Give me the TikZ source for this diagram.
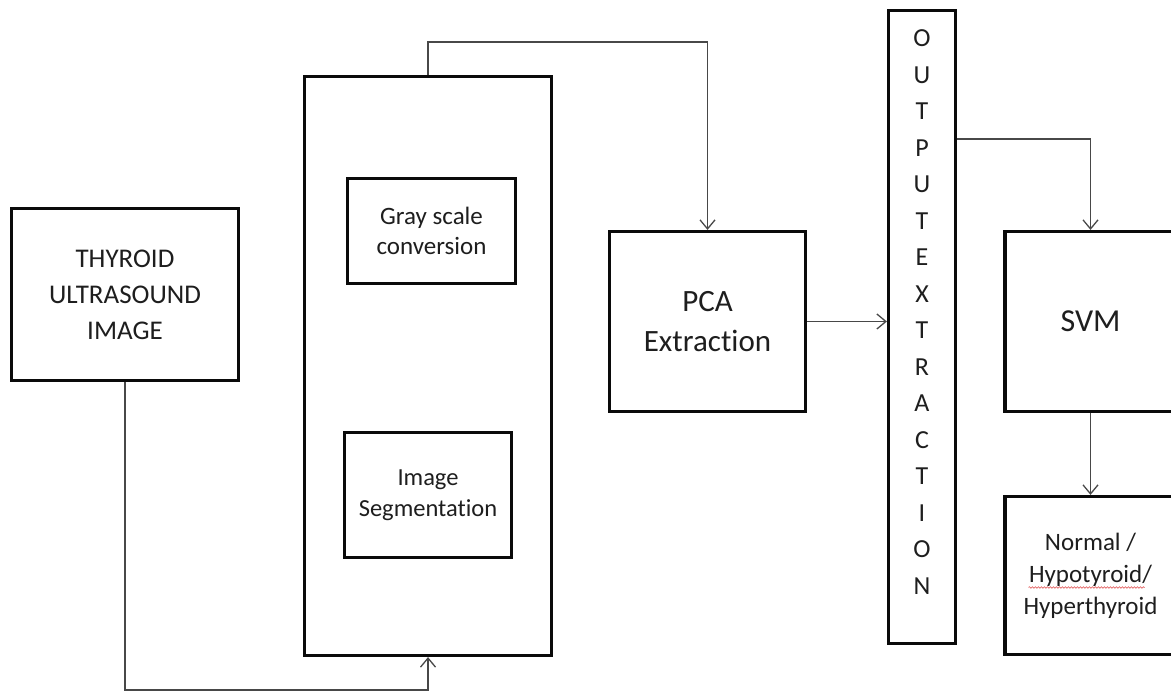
\documentclass[tikz,border=0pt]{standalone}
\usepackage{fontspec}
\setmainfont{Carlito}[Ligatures=NoCommon]
\usetikzlibrary{arrows.meta, positioning, calc, decorations.pathmorphing}
\definecolor{thBorder}{HTML}{0A0A0A}
\definecolor{thLink}{HTML}{484848}
\definecolor{thText}{HTML}{1E1E1E}
\definecolor{thSpell}{HTML}{E05050}
\tikzset{
  thbox/.style={draw=thBorder, line width=3.2pt, fill=white, align=center,
                inner sep=0pt, text=thText},
  thvert/.style={align=center, inner sep=0pt, text=thText,
                 font=\fontsize{26}{36.5}\selectfont},
  thlink/.style={draw=thLink, line width=1.3pt, -{Straight Barb[length=9pt,width=15pt]}},
}
\begin{document}
\begin{tikzpicture}[x=1pt, y=-1pt]
\useasboundingbox (0,0) rectangle (1171,692);

\node[thbox, minimum width=227pt, minimum height=172pt,
      font=\fontsize{27}{36}\selectfont] (image) at (125,294.5) {THYROID\\ULTRASOUND\\IMAGE};
\node[thbox, minimum width=247pt, minimum height=579pt] (prep) at (428,366) {};
\node[thbox, minimum width=168pt, minimum height=105pt,
      font=\fontsize{25}{30}\selectfont] (gray) at (431.5,231) {Gray scale\\conversion};
\node[thbox, minimum width=167pt, minimum height=125pt,
      font=\fontsize{24.5}{31}\selectfont] (seg) at (428,495) {Image\\Segmentation};
\node[thbox, minimum width=196pt, minimum height=180pt,
      font=\fontsize{31}{40}\selectfont] (pca) at (707.5,321.5) {PCA\\Extraction};
\node[thbox, minimum width=67pt, minimum height=633pt] (feat) at (922,327) {};
\node[thvert] (featlbl) at ([yshift=15pt]feat.center) {O\\U\\T\\P\\U\\T\\E\\X\\T\\R\\A\\C\\T\\I\\O\\N};
\node[thbox, minimum width=171pt, minimum height=180pt,
      font=\fontsize{32}{40}\selectfont] (svm) at (1090.5,321.5) {SVM};
\node[thbox, minimum width=171pt, minimum height=158pt,
      font=\fontsize{25}{32}\selectfont] (result) at (1090.5,575.5) {Normal /\\Hypotyroid/\\Hyperthyroid};

% spell-check mark under the second line
\draw[thSpell, line width=0.6pt, decoration={snake, amplitude=0.8pt, segment length=3pt}, decorate]
  ($(result.center)+(-62,12)$) -- ($(result.center)+(54,12)$);

\coordinate (top) at (0,42);
\draw[thlink] (image.south) |- ($(prep.south)+(0,33)$) -- (prep.south);
\draw[thlink] (prep.north) |- (pca.north |- top) -- (pca.north);
\draw[thlink] (pca.east) -- (pca.east -| feat.west);
\draw[thlink] ([yshift=-130pt]feat.north east) -| (svm.north);
\draw[thlink] (svm.south) -- (result.north);
\end{tikzpicture}
\end{document}
